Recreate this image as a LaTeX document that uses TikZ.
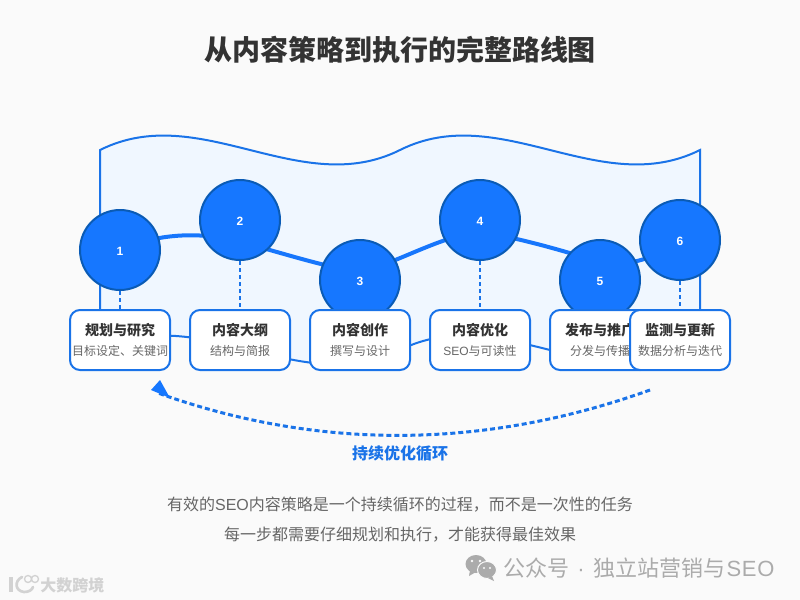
\documentclass[tikz,border=0pt]{standalone}
\usepackage{fontspec}
\setmainfont{Noto Sans CJK SC}
\newfontfamily\lat{Liberation Sans}
\usetikzlibrary{backgrounds,calc}
\definecolor{pagebg}{HTML}{FAFAFA}
\definecolor{flagfill}{HTML}{F0F7FF}
\definecolor{lineblue}{HTML}{1A73E8}
\definecolor{dotblue}{HTML}{1677FF}
\definecolor{dotedge}{HTML}{0A5BB5}
\definecolor{darktext}{HTML}{333333}
\definecolor{softtext}{HTML}{666666}
\definecolor{markgray}{HTML}{ABABAB}
\definecolor{brandgray}{HTML}{D2D2D2}

\begin{document}
\begin{tikzpicture}[
    x=0.75pt, y=-0.75pt,
    dot/.style={circle, draw=dotedge, line width=1.5pt, fill=dotblue, minimum size=60pt, inner sep=0pt, text=white, text height=7.9pt, font=\lat\bfseries\fontsize{9}{9}\selectfont},
    stagebox/.style={draw=lineblue, line width=1.5pt, rounded corners=7.5pt, fill=white, minimum width=75pt, minimum height=45pt, inner sep=0pt},
    stagetitle/.style={text=darktext, font=\bfseries\fontsize{10.5}{10.5}\selectfont, inner sep=0pt},
    stagesub/.style={text=softtext, font=\fontsize{9}{9}\selectfont, inner sep=0pt},
    drop/.style={draw=lineblue, line width=1.5pt, dash pattern=on 3pt off 2.25pt},
    wave/.style={draw=dotblue!85!lineblue, line width=3pt},
    wmark/.style={text=markgray, inner sep=0pt}
]
    % Steps
    \node[dot] (c1) at (120,250) {1};
    \node[dot] (c2) at (240,220) {2};
    \node[dot] (c3) at (360,280) {3};
    \node[dot] (c4) at (480,220) {4};
    \node[dot] (c5) at (600,280) {5};
    \node[dot] (c6) at (680,240) {6};

    % Page, flag and wave
    \begin{scope}[on background layer]
        \fill[pagebg] (0,0) rectangle (800,600);
        \path[draw=lineblue, line width=1.5pt, fill=flagfill]
            (100,150) .. controls (200,100) and (300,200) .. (400,150)
            .. controls (500,100) and (600,200) .. (700,150)
            -- (700,350) .. controls (600,400) and (500,300) .. (400,350)
            .. controls (300,400) and (200,300) .. (100,350) -- cycle;
        \path[wave] (c1.center) .. controls (160,232) and (205,232) .. (240,242)
            .. controls (280,252) and (320,266) .. (360,272)
            .. controls (400,262) and (440,236) .. (480,232)
            .. controls (520,238) and (560,250) .. (600,262)
            .. controls (625,266) and (650,262) .. (c6.center);
    \end{scope}

    % Title
    \node[text=darktext, font=\bfseries\fontsize{21}{21}\selectfont, inner sep=0pt] (title) at (400,50) {从内容策略到执行的完整路线图};

    % Boxes
    \node[stagebox] (b1) at (120,340) {};
    \node[stagebox] (b2) at (240,340) {};
    \node[stagebox] (b3) at (360,340) {};
    \node[stagebox] (b4) at (480,340) {};
    \node[stagebox] (b5) at (600,340) {};
    \node[stagetitle] (t5) at (600,330) {发布与推广};
    \node[stagesub] (s5) at (600,351) {分发与传播};
    \node[stagebox] (b6) at (680,340) {};

    \draw[drop] (c1) -- (b1);
    \draw[drop] (c2) -- (b2);
    \draw[drop] (c4) -- (b4);
    \draw[drop] (c6) -- (b6);

    \node[stagetitle] (t1) at (120,330) {规划与研究};
    \node[stagesub] (s1) at (120,351) {目标设定、关键词};
    \node[stagetitle] (t2) at (240,330) {内容大纲};
    \node[stagesub] (s2) at (240,351) {结构与简报};
    \node[stagetitle] (t3) at (360,330) {内容创作};
    \node[stagesub] (s3) at (360,351) {撰写与设计};
    \node[stagetitle] (t4) at (480,330) {内容优化};
    \node[stagesub] (s4) at (480,351) {{\lat SEO}与可读性};
    \node[stagetitle] (t6) at (680,330) {监测与更新};
    \node[stagesub] (s6) at (680,351) {数据分析与迭代};

    % Loop
    \coordinate (loopstart) at (650,390);
    \coordinate (loopend) at (158,393);
    \draw[lineblue, line width=2.25pt, dash pattern=on 3.75pt off 2.25pt] (loopstart) .. controls (483,450) and (317,450) .. (loopend);
    \fill[dotblue] (160,380) -- (151,390) -- (170,398) -- cycle;
    \node[text=lineblue, font=\bfseries\fontsize{12}{12}\selectfont, inner sep=0pt] (looplabel) at (400,454) {持续优化循环};

    % Notes
    \node[text=softtext, font=\fontsize{12}{12}\selectfont, inner sep=0pt] (note1) at (400,505) {有效的{\lat SEO}内容策略是一个持续循环的过程，而不是一次性的任务};
    \node[text=softtext, font=\fontsize{12}{12}\selectfont, inner sep=0pt] (note2) at (400,535) {每一步都需要仔细规划和执行，才能获得最佳效果};

    % Watermarks
    \fill[markgray] (476,564) ellipse [x radius=10.5, y radius=9];
    \fill[markgray] (470,570) -- (469,576) -- (476,572) -- cycle;
    \fill[markgray, draw=pagebg, line width=0.75pt] (487,570) ellipse [x radius=9.5, y radius=8.5];
    \fill[markgray] (492,576) -- (494,581) -- (488,578) -- cycle;
    \fill[pagebg] (472,561) circle (1.4) (480,561) circle (1.4) (484,568) circle (1.2) (490,568) circle (1.2);
    \node[wmark, anchor=west, font=\fontsize{16.5}{16.5}\selectfont] (account) at (503,568) {公众号\hspace{6pt}{\lat ·}\hspace{7pt}独立站营销与\hspace{0.5pt}{\lat S\hspace{0.5pt}E\hspace{0.5pt}O}};

    \draw[brandgray, line width=2.5pt] (11,577) -- (11,592);
    \draw[brandgray, line width=2pt, line cap=round] (22,577) .. controls (14,581) and (15,591) .. (24,592) .. controls (29,592) and (32,590) .. (33,587);
    \draw[brandgray, line width=1pt] (28,579) circle (3.5) (35,579) circle (3.5);
    \node[wmark, anchor=west, text=brandgray, font=\bfseries\fontsize{12}{12}\selectfont] (brand) at (40,585) {大数跨境};
\end{tikzpicture}
\end{document}
